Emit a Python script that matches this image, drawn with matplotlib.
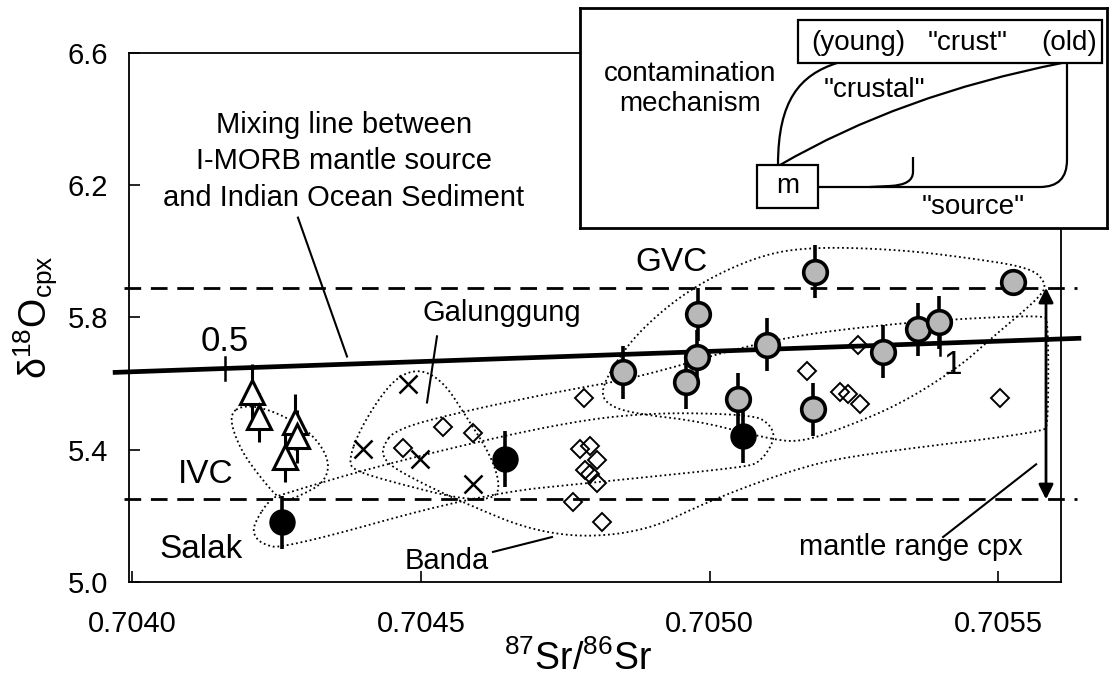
import matplotlib.pyplot as plt
import numpy as np
from matplotlib.path import Path
from matplotlib.patches import PathPatch, Rectangle

plt.rcParams['font.family'] = ['Liberation Sans', 'DejaVu Sans']
plt.rcParams['mathtext.fontset'] = 'custom'
plt.rcParams['mathtext.rm'] = 'Liberation Sans'

# IVC (open triangles)
ivc_sr = [0.704207, 0.704219, 0.704282, 0.704285, 0.704264]
ivc_o = [5.574, 5.498, 5.483, 5.441, 5.377]
ivc_err = [0.085, 0.075, 0.085, 0.08, 0.075]

# black circles (Salak, Galunggung, GVC)
blk_sr = [0.704259, 0.704646, 0.705058]
blk_o = [5.181, 5.371, 5.441]
blk_err = [0.08, 0.085, 0.08]

# GVC grey circles
gvc_sr = [0.704850, 0.704960, 0.704978, 0.704980, 0.705050, 0.705100,
          0.705180, 0.705183, 0.705300, 0.705361, 0.705398, 0.705526]
gvc_o = [5.634, 5.604, 5.682, 5.810, 5.552, 5.718,
         5.522, 5.939, 5.697, 5.764, 5.785, 5.906]
gvc_err = [0.08, 0.08, 0.08, 0.08, 0.08, 0.08,
           0.08, 0.08, 0.08, 0.08, 0.08, 0.0]

# Banda (open diamonds)
banda_sr = [0.704469, 0.704538, 0.704590, 0.704782, 0.704776, 0.704793,
            0.704805, 0.704784, 0.704793, 0.704805, 0.704763, 0.704814,
            0.705169, 0.705226, 0.705240, 0.705261, 0.705257, 0.705503]
banda_o = [5.405, 5.468, 5.450, 5.558, 5.402, 5.411,
           5.368, 5.338, 5.326, 5.299, 5.242, 5.181,
           5.637, 5.574, 5.568, 5.537, 5.718, 5.558]

# Galunggung (crosses)
gal_sr = [0.704477, 0.704399, 0.704498, 0.704590]
gal_o = [5.598, 5.402, 5.371, 5.296]

# mixing line I-MORB -- Indian Ocean sediment, with 0.5 and 1 marks
mix_sr = [0.70397, 0.70564]
mix_o = [5.634, 5.737]
mix_marks_sr = [0.704160, 0.705399]
mix_marks_lab = ['0.5', '1']

# mantle range cpx
mantle_lo, mantle_hi = 5.25, 5.89

# dotted fields
ivc_field_sr = [0.704166, 0.704195, 0.704247, 0.704308, 0.704342, 0.704334,
                0.704290, 0.704259, 0.704224, 0.704186]
ivc_field_o = [5.507, 5.537, 5.516, 5.456, 5.371, 5.302,
               5.260, 5.242, 5.311, 5.402]
gal_field_sr = [0.704374, 0.704394, 0.704438, 0.704472, 0.704507, 0.704542,
                0.704576, 0.704620, 0.704637, 0.704628, 0.704568, 0.704464, 0.704386]
gal_field_o = [5.365, 5.462, 5.583, 5.634, 5.640, 5.598,
               5.507, 5.386, 5.296, 5.251, 5.251, 5.296, 5.335]
blk_field_sr = [0.704212, 0.704238, 0.704261, 0.704429, 0.704706, 0.704880,
                0.705075, 0.705105, 0.705114, 0.705088, 0.705058, 0.704822,
                0.704602, 0.704261, 0.704224, 0.704209]
blk_field_o = [5.181, 5.251, 5.266, 5.353, 5.468, 5.513,
               5.507, 5.477, 5.432, 5.362, 5.347, 5.305,
               5.266, 5.100, 5.115, 5.145]
banda_field_sr = [0.704434, 0.704455, 0.704573, 0.704741, 0.704880, 0.705100,
                  0.705330, 0.705578, 0.705587, 0.705587, 0.705578, 0.705261,
                  0.705157, 0.705006, 0.704880, 0.704718, 0.704550, 0.704455, 0.704434]
banda_field_o = [5.411, 5.462, 5.516, 5.577, 5.619, 5.734,
                 5.785, 5.809, 5.788, 5.477, 5.453, 5.386,
                 5.347, 5.251, 5.145, 5.136, 5.257, 5.341, 5.377]
gvc_field_sr = [0.704810, 0.704831, 0.704880, 0.704971, 0.705088, 0.705183,
                0.705330, 0.705446, 0.705556, 0.705583, 0.705576, 0.705486,
                0.705434, 0.705330, 0.705226, 0.705157, 0.705105, 0.704984,
                0.704880, 0.704831]
gvc_field_o = [5.568, 5.649, 5.764, 5.894, 5.990, 6.014,
               6.005, 5.981, 5.951, 5.906, 5.866, 5.734,
               5.652, 5.537, 5.462, 5.423, 5.432, 5.486,
               5.507, 5.528]


def smooth(xs, ys, n=4):
    # chaikin corner cutting, closed
    p = np.column_stack([xs, ys])
    for _ in range(n):
        q = np.roll(p, -1, axis=0)
        new = np.empty((2 * len(p), 2))
        new[0::2] = 0.75 * p + 0.25 * q
        new[1::2] = 0.25 * p + 0.75 * q
        p = new
    p = np.vstack([p, p[:1]])
    return p[:, 0], p[:, 1]


fig = plt.figure(figsize=(11.11, 6.89), dpi=100)
ax = fig.add_axes([0.1161, 0.1553, 0.8389, 0.7678])

for fx, fy in [(ivc_field_sr, ivc_field_o), (gal_field_sr, gal_field_o),
               (blk_field_sr, blk_field_o), (banda_field_sr, banda_field_o),
               (gvc_field_sr, gvc_field_o)]:
    sx, sy = smooth(fx, fy)
    ax.plot(sx, sy, color='k', lw=1.3, ls=(0, (1, 1.6)), zorder=1)

# mantle range
for yv in [mantle_lo, mantle_hi]:
    ax.plot([0.703986, 0.705637], [yv, yv], color='k', lw=2,
            ls=(0, (6, 3.5)), clip_on=False, zorder=2)
ax.annotate('', xy=(0.705583, mantle_lo), xytext=(0.705583, mantle_hi),
            arrowprops=dict(arrowstyle='<|-|>', color='k', lw=2,
                            mutation_scale=22, shrinkA=0, shrinkB=0))

# mixing line
ax.plot(mix_sr, mix_o, color='k', lw=3.4, clip_on=False, zorder=3)
for mx in mix_marks_sr:
    my = np.interp(mx, mix_sr, mix_o)
    ax.plot([mx, mx], [my - 0.035, my + 0.035], color='k', lw=1.8, zorder=3)
ax.text(0.704160, 5.728, mix_marks_lab[0], fontsize=25, ha='center', va='center')
ax.text(0.705422, 5.655, mix_marks_lab[1], fontsize=24, ha='center', va='center')

# data
ax.plot(banda_sr, banda_o, 'D', ms=9, mfc='none', mec='k', mew=1.4, zorder=4)
ax.plot(gal_sr, gal_o, 'x', ms=13, mec='k', mew=1.8, zorder=4)
ax.errorbar(ivc_sr, ivc_o, yerr=ivc_err, fmt='^', ms=17, mfc='white', mec='k',
            mew=2.2, ecolor='k', elinewidth=2.2, capsize=0, zorder=5)
ax.errorbar(gvc_sr, gvc_o, yerr=gvc_err, fmt='o', ms=17, mfc='#b8b8b8', mec='k',
            mew=2.6, ecolor='k', elinewidth=2.6, capsize=0, zorder=5)
ax.errorbar(blk_sr, blk_o, yerr=blk_err, fmt='o', ms=18, mfc='k', mec='k',
            ecolor='k', elinewidth=2.6, capsize=0, zorder=5)

# labels
ax.text(0.7043666, 6.272, 'Mixing line between\nI-MORB mantle source\nand Indian Ocean Sediment',
        fontsize=21, ha='center', va='center', linespacing=1.4)
ax.plot([0.7042868, 0.7043718], [6.102, 5.682], color='k', lw=1.5)
ax.text(0.7049333, 5.966, 'GVC', fontsize=24, ha='center', va='center')
ax.text(0.7041274, 5.326, 'IVC', fontsize=24, ha='center', va='center')
ax.text(0.7041187, 5.097, 'Salak', fontsize=24, ha='center', va='center')
ax.text(0.7046404, 5.815, 'Galunggung', fontsize=21, ha='center', va='center')
ax.plot([0.7045277, 0.7045104], [5.743, 5.543], color='k', lw=1.5)
ax.text(0.7045451, 5.063, 'Banda', fontsize=21, ha='center', va='center')
ax.plot([0.7046248, 0.7047270], [5.091, 5.136], color='k', lw=1.5)
ax.text(0.7053492, 5.106, 'mantle range cpx', fontsize=21, ha='center', va='center')
ax.plot([0.7054047, 0.7055659], [5.136, 5.356], color='k', lw=1.5)

ax.set_xlim(0.703994, 0.705609)
ax.set_ylim(5.0, 6.6)
ax.set_xticks([0.7040, 0.7045, 0.7050, 0.7055])
ax.set_xticklabels(['0.7040', '0.7045', '0.7050', '0.7055'])
ax.set_yticks([5.0, 5.4, 5.8, 6.2, 6.6])
ax.set_yticklabels(['5.0', '5.4', '5.8', '6.2', '6.6'])
ax.tick_params(direction='in', length=8, width=1.2, labelsize=21)
ax.tick_params(axis='x', pad=20)
ax.tick_params(axis='y', pad=15)
for s in ax.spines.values():
    s.set_linewidth(1.3)
ax.set_xlabel(r'$^{87}$Sr/$^{86}$Sr', fontsize=27)
ax.xaxis.set_label_coords(0.482, -0.11)
ax.set_ylabel(r'δ$^{18}$O$_{\rm cpx}$', fontsize=27)
ax.yaxis.set_label_coords(-0.074, 0.5)

# inset: contamination mechanism (drawn in pixel-like units)
ins = fig.add_axes([580 / 1111, 1 - 228 / 689, 527 / 1111, 220 / 689], zorder=10)
ins.set_xlim(580, 1107)
ins.set_ylim(228, 8)
ins.set_xticks([])
ins.set_yticks([])
for s in ins.spines.values():
    s.set_linewidth(2)
ins.add_patch(Rectangle((798, 20), 304, 43, fill=False, lw=1.6))
ins.add_patch(Rectangle((757, 165), 61, 43, fill=False, lw=1.6))
ins.text(858, 43, '(young)', fontsize=20, ha='center', va='center')
ins.text(968, 43, '"crust"', fontsize=20, ha='center', va='center')
ins.text(1069, 43, '(old)', fontsize=20, ha='center', va='center')
ins.text(788, 186, 'm', fontsize=20, ha='center', va='center')
ins.text(690, 89, 'contamination\nmechanism', fontsize=20, ha='center', va='center',
         linespacing=1.2)
ins.text(874, 90, '"crustal"', fontsize=20, ha='center', va='center')
ins.text(973, 207, '"source"', fontsize=20, ha='center', va='center')
paths = [
    Path([(837, 63), (800, 75), (778, 100), (778, 165)],
         [Path.MOVETO, Path.CURVE4, Path.CURVE4, Path.CURVE4]),
    Path([(780, 165), (900, 95), (1062, 63)],
         [Path.MOVETO, Path.CURVE3, Path.CURVE3]),
    Path([(818, 187), (1040, 187), (1067, 187), (1067, 160), (1067, 63)],
         [Path.MOVETO, Path.LINETO, Path.CURVE3, Path.CURVE3, Path.LINETO]),
    Path([(913, 157), (913, 172), (913, 185), (890, 186), (870, 187)],
         [Path.MOVETO, Path.LINETO, Path.CURVE3, Path.CURVE3, Path.LINETO]),
]
for p in paths:
    ins.add_patch(PathPatch(p, fill=False, lw=1.6))

fig.savefig('out.png', dpi=100)
